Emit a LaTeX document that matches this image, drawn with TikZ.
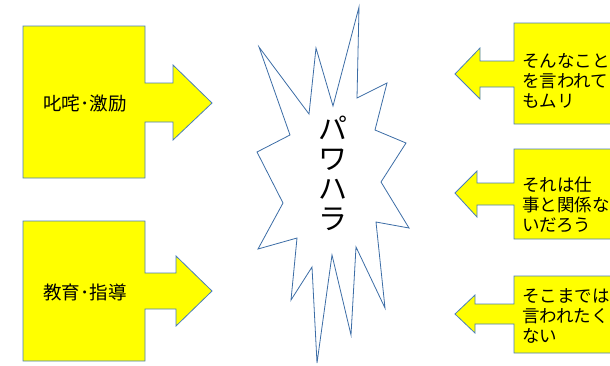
\documentclass[tikz,border=0pt]{standalone}
\usepackage{fontspec}
\newfontfamily\jpfont{Noto Sans CJK JP}
\definecolor{calloutfill}{HTML}{FFFF00}
\definecolor{calloutline}{HTML}{4A7EBB}
\definecolor{burstline}{HTML}{3C6DA6}
\tikzset{
  callout/.style={draw=calloutline, fill=calloutfill, line width=0.8pt, line join=miter},
  burst/.style={draw=burstline, fill=white, line width=0.8pt},
  lefttext/.style={font=\jpfont\fontsize{18.5}{20}\selectfont, inner sep=0pt},
  righttext/.style={font=\jpfont\fontsize{17.5}{20}\selectfont, inner sep=0pt, align=left, anchor=west},
  bursttext/.style={font=\jpfont\fontsize{29}{30}\selectfont, inner sep=0pt, align=center}
}
\begin{document}
\begin{tikzpicture}[x=1pt, y=-1pt]
    \useasboundingbox (0,0) rectangle (610,365);

    % left callouts
    \draw[callout] (23,26) -- (145,26) -- (145,83) -- (173,83) -- (173,65) -- (212,103)
        -- (173,140) -- (173,122) -- (145,122) -- (145,178) -- (23,178) -- cycle;
    \draw[callout] (23,221) -- (145,221) -- (145,273) -- (176,273) -- (176,256) -- (212,291)
        -- (176,326) -- (176,309) -- (145,309) -- (145,361) -- (23,361) -- cycle;
    \node[lefttext] (scold) at (85,104) {叱咤･激励};
    \node[lefttext] (teach) at (85,292) {教育･指導};

    % starburst
    \draw[burst] (359,7) -- (357,98) -- (387,83) -- (375,130) -- (406,143) -- (381,182)
        -- (409,228) -- (376,222) -- (385,308) -- (356,247) -- (351,335) -- (332,255)
        -- (317,363) -- (312,267) -- (291,300) -- (297,238) -- (258,249) -- (283,203)
        -- (257,152) -- (290,135) -- (259,47) -- (309,114) -- (316,48) -- (333,106) -- cycle;
    \node[bursttext] (pawahara) at (333,173) {パ\\ワ\\ハ\\ラ};

    % right callouts
    \draw[callout] (620,23) -- (514,23) -- (514,61) -- (480,61) -- (480,48) -- (455,74)
        -- (480,99) -- (480,87) -- (514,87) -- (514,124) -- (620,124);
    \draw[callout] (620,149) -- (514,149) -- (514,183) -- (477,183) -- (477,171) -- (455,193)
        -- (477,217) -- (477,205) -- (514,205) -- (514,239) -- (620,239);
    \draw[callout] (620,276) -- (514,276) -- (514,304) -- (475,304) -- (475,295) -- (455,314)
        -- (475,333) -- (475,324) -- (514,324) -- (514,353) -- (620,353);
    \node[righttext] (impossible) at (522,81) {そんなこと\\を言われて\\もムリ};
    \node[righttext] (unrelated) at (522,205) {それは仕\\事と関係な\\いだろう};
    \node[righttext] (toofar) at (522,316) {そこまでは\\言われたく\\ない};
\end{tikzpicture}
\end{document}
